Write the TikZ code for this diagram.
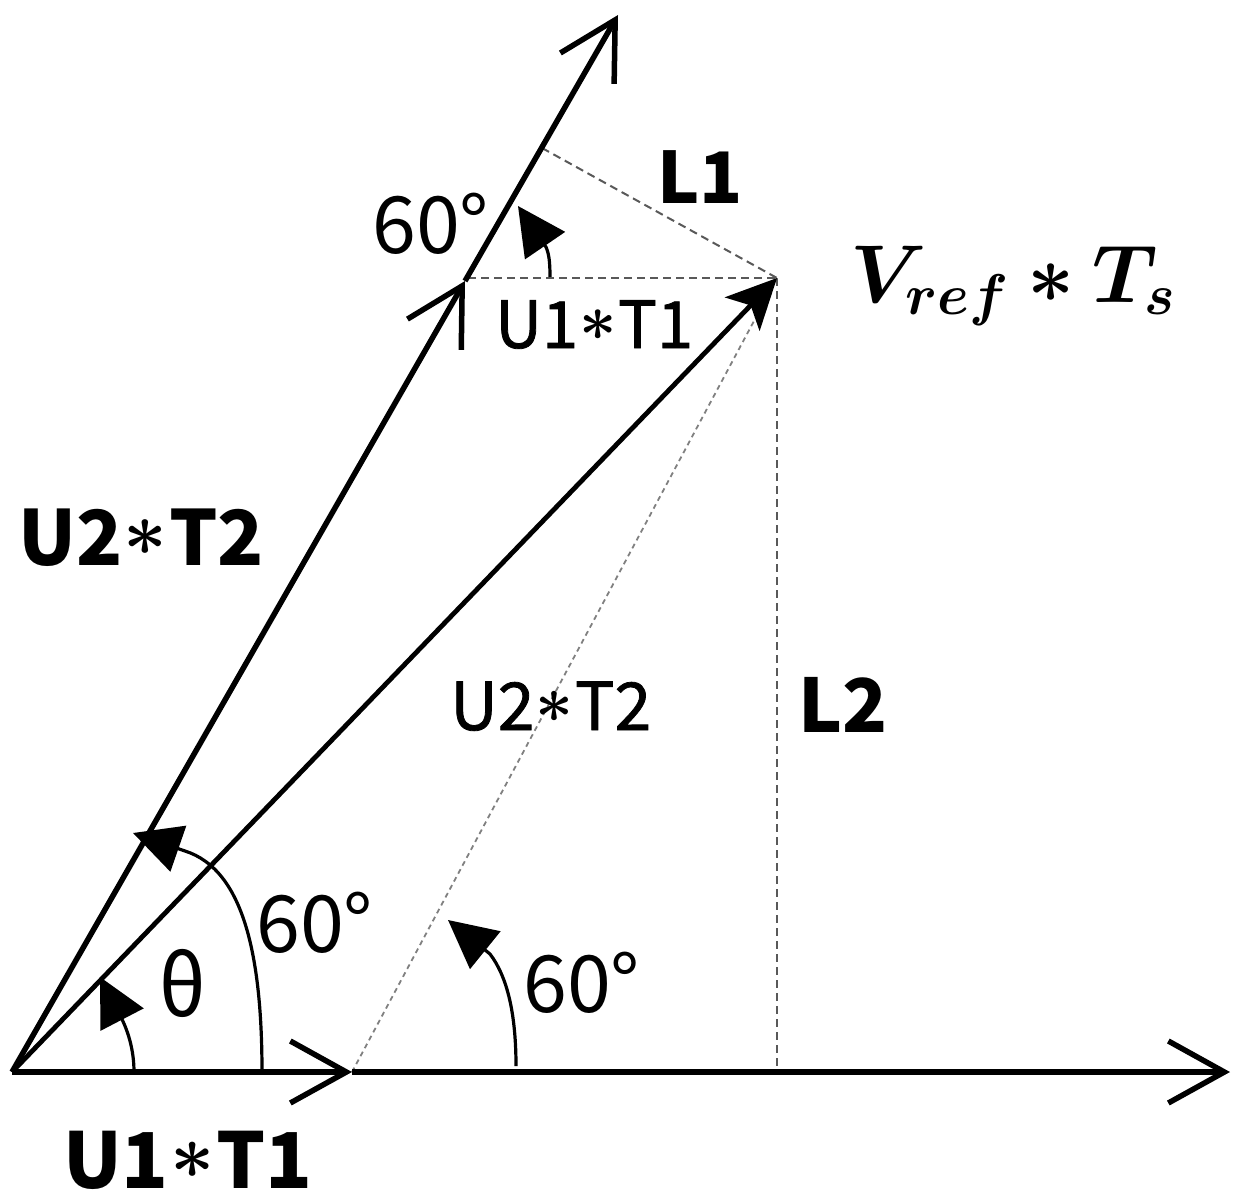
\RequirePackage{fix-cm}
\documentclass[tikz,border=0pt]{standalone}
\usepackage{bm}
\usepackage{fontspec}
\newfontfamily\lab{Noto Sans CJK SC}
\newfontfamily\labm{Noto Sans CJK SC}[FakeBold=1.2]
\usetikzlibrary{arrows.meta}
\newcommand\mybstar{\kern0.02em\raisebox{0.12em}{$\bm{\ast}$}\kern0.02em}
\begin{document}
\begin{tikzpicture}[x=1pt,y=-1pt,
  barb/.style={-{Straight Barb[length=56pt,width=62pt]}},
  mainline/.style={line width=5.5pt},
  dsh/.style={draw=black!65, line width=2pt, dash pattern=on 8pt off 5pt},
  dshlight/.style={draw=black!50, line width=1.8pt, dash pattern=on 5pt off 4pt},
  arcarrow/.style={line width=3.2pt,-{Triangle[length=48pt,width=48pt]}},
  lbl/.style={inner sep=0pt, anchor=base west},
  fbold/.style={font=\lab\bfseries\fontsize{#1}{#1}\selectfont},
  fmed/.style={font=\labm\fontsize{#1}{#1}\selectfont},
  freg/.style={font=\lab\fontsize{#1}{#1}\selectfont}]
\useasboundingbox (0,0) rectangle (1256,1202);
% points
\coordinate (O) at (12,1072);
\coordinate (T) at (618,15);
\coordinate (P) at (465,281);
\coordinate (V) at (777,278);
\coordinate (A) at (352,1072);
\coordinate (X) at (1230,1072);
\coordinate (F) at (542,148);
\coordinate (H) at (468,278);
\coordinate (B) at (777,1072);
% dashed construction lines
\draw[dsh] (H) -- (V);
\draw[dsh] (F) -- (V);
\draw[dsh] (V) -- (B);
\draw[dshlight] (A) -- (V);
% main vectors
\draw[mainline,barb] (O) -- (P);
\draw[mainline,barb] (P) -- (T);
\draw[mainline,barb] (O) -- (A);
\draw[mainline,barb] (A) -- (X);
\draw[line width=4.8pt,-{Stealth[length=50pt,width=48pt,inset=12pt]}] (O) -- (V);
% angle arcs
\draw[arcarrow] (262,1072) .. controls (262,960) and (245,870) .. (185,851) -- (133,833);
\draw[arcarrow] (134,1072) arc[start angle=0,end angle=25,radius=122pt] -- (100,977);
\draw[arcarrow] (516,1066) .. controls (516,1010) and (506,975) .. (490,954) -- (448,920);
\draw[arcarrow] (550,277) .. controls (550,262) and (549,254) .. (546,247) -- (518,206);
% labels
\node[lbl,fbold=71pt] (l1) at (657,203) {L1};
\node[lbl,font=\fontsize{82pt}{82pt}\selectfont] (vref) at (850,302) {$\bm{V_{ref} * T_s}$};
\node[lbl,fmed=65pt] (u1t1a) at (495,348) {U1\mybstar T1};
\node[lbl,fbold=76pt] (u2t2a) at (18,565) {U2\mybstar T2};
\node[lbl,fmed=66pt] (u2t2b) at (450,730) {U2\mybstar T2};
\node[lbl,fbold=74pt] (l2) at (798,732) {L2};
\node[lbl,freg=79pt] (a1) at (372,253) {60°};
\node[lbl,freg=79pt] (a2) at (256,952) {60°};
\node[inner sep=0pt,anchor=base,freg=83pt] (th) at (183,1016) {θ};
\node[lbl,freg=79pt] (a3) at (523,1012) {60°};
\node[lbl,fbold=77pt] (u1t1b) at (63,1188) {U1\mybstar T1};
\end{tikzpicture}
\end{document}
